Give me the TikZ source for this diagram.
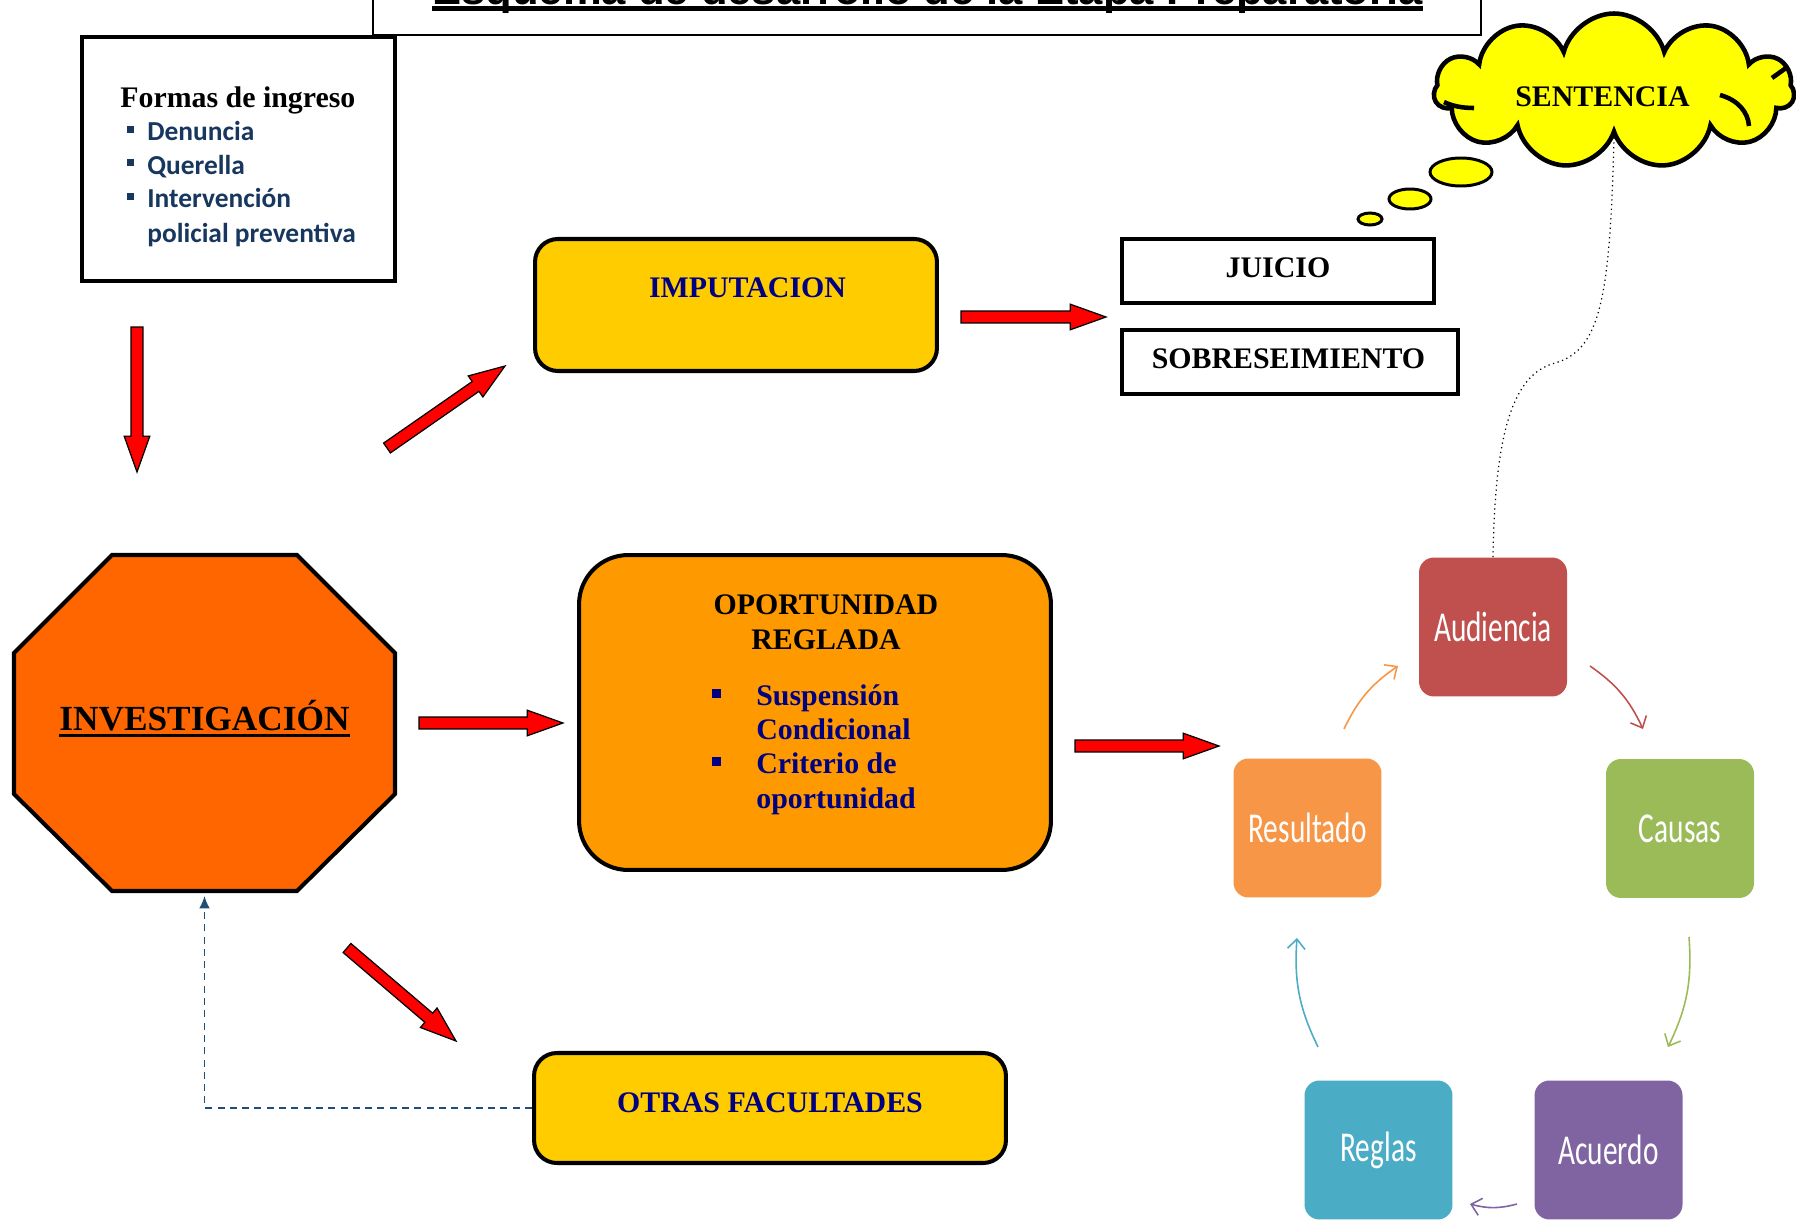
\documentclass[tikz,border=0pt]{standalone}
\usepackage{fontspec}
\usepackage{graphicx}
\setmainfont{Liberation Serif}
\newfontfamily\calibfont{Carlito}
\newfontfamily\arialfont{Liberation Sans}
\usetikzlibrary{calc,shapes.symbols,arrows.meta}
\definecolor{navytxt}{HTML}{000080}
\definecolor{listblue}{HTML}{17375E}
\definecolor{impyellow}{HTML}{FFCC00}
\definecolor{invorange}{HTML}{FF6600}
\definecolor{oporange}{HTML}{FF9900}
\definecolor{audred}{HTML}{C0504D}
\definecolor{caugreen}{HTML}{9BBB59}
\definecolor{acupurple}{HTML}{8064A2}
\definecolor{regblue}{HTML}{4BACC6}
\definecolor{resorange}{HTML}{F79646}
\definecolor{dashblue}{HTML}{1F4E79}
\definecolor{cloudyellow}{HTML}{FFFF00}
\newcommand{\arrSW}{3.4pt}
\newcommand{\arrHW}{7.3pt}
\newcommand{\arrHL}{20.4pt}
\newcommand{\blockarrow}[2]{%
  \coordinate (hb) at ($(#2)!\arrHL!(#1)$);
  \draw[redarrow] ($(#1)!\arrSW!90:(#2)$) -- ($(hb)!\arrSW!-90:(#1)$) -- ($(hb)!\arrHW!-90:(#1)$) -- (#2) -- ($(hb)!\arrHW!90:(#1)$) -- ($(hb)!\arrSW!90:(#1)$) -- ($(#1)!\arrSW!-90:(#2)$) -- cycle;}
\begin{document}
\begin{tikzpicture}[x=0.02cm,y=-0.02cm,
  box/.style={draw, line width=2.3pt, inner sep=0},
  redarrow/.style={draw=black, line width=0.7pt, fill=red, line join=miter},
  tb/.style={font=\fontsize{17}{20}\selectfont\bfseries, inner sep=0},
  lst/.style={anchor=base west, inner sep=0, font=\calibfont\bfseries\fontsize{15.6}{19}\selectfont, text=listblue},
  olst/.style={anchor=base west, tb, text=navytxt},
  cyc/.style={rounded corners=8.5pt, minimum width=2.96cm, minimum height=2.78cm, inner sep=0, text=white, font=\calibfont\fontsize{16.7}{20}\selectfont},
  cycarrow/.style={line width=0.9pt, -{Straight Barb[length=5.5pt,width=10pt]}, bend left=15},
  bubble/.style={draw, line width=1.7pt, fill=cloudyellow},
]
\useasboundingbox (0,0) rectangle (1796,1220);
\clip (0,0) rectangle (1796,1220);
\fill[white] (0,0) rectangle (1796,1220);

% title
\draw[line width=0.9pt, fill=white] (373,-20) rectangle (1481,35);
\node[anchor=base west, inner sep=0, font=\arialfont\bfseries\fontsize{24.8}{30}\selectfont] (title) at (432,5) {Esquema de desarrollo de la Etapa Preparatoria};
\draw[line width=2.3pt] ([yshift=-2pt]title.base west) -- ([yshift=-2pt]title.base east);

% Formas de ingreso
\node[box, fill=white, minimum width=6.26cm, minimum height=4.9cm] (formas) at (238.5,159) {};
\node[tb, anchor=base west] (ftit) at (120,108) {Formas de ingreso};
\foreach \yy in {129.5,162.5,196.5} \fill[listblue] (127,\yy-3.3) rectangle (133.5,\yy+3.3);
\node[lst] (den) at (147,141) {Denuncia};
\node[lst] (que) at (147,174) {Querella};
\node[lst] (int) at (147,208) {Intervención};
\node[lst] (pol) at (147,242) {policial preventiva};

% IMPUTACION
\node[box, fill=impyellow, rounded corners=13pt, minimum width=8.04cm, minimum height=2.64cm] (imp) at (736,305) {};
\node[tb, text=navytxt, anchor=base] (imptxt) at (747.5,297) {IMPUTACION};

% JUICIO / SOBRESEIMIENTO
\node[box, fill=white, minimum width=6.24cm, minimum height=1.28cm] (jui) at (1278,271) {};
\node[tb, anchor=base] (juitxt) at (1278,277) {JUICIO};
\node[box, fill=white, minimum width=6.72cm, minimum height=1.28cm] (sob) at (1290,362) {};
\node[tb, anchor=base] (sobtxt) at (1288.5,368) {SOBRESEIMIENTO};

% cloud
\draw[bubble] (1370,219) ellipse [x radius=12, y radius=6];
\draw[bubble] (1410,199) ellipse [x radius=21, y radius=10];
\draw[bubble] (1461,172) ellipse [x radius=31, y radius=14];
\node[cloud, cloud puffs=11, aspect=2.2, draw, line width=2.6pt, fill=cloudyellow, minimum width=7.2cm, minimum height=3.1cm, inner sep=0] (sent) at (1614,91) {};
\draw[line width=2.6pt] (1474,108) .. controls (1462,108) and (1452,106) .. (1444,102);
\draw[line width=2.6pt] (1720,95) .. controls (1738,100) and (1748,112) .. (1749,126);
\draw[line width=2.6pt] (1772,78) -- (1786,68);
\node[tb, anchor=base] (senttxt) at (1602.5,107) {SENTENCIA};

% INVESTIGACION
\node[minimum width=7.7cm, minimum height=6.8cm, inner sep=0] (inv) at (204.5,723) {};
\draw[line width=2.3pt, fill=invorange, line join=miter] (112,555) -- (297,555) -- (395,653) -- (395,794) -- (297,891) -- (112,891) -- (14,794) -- (14,653) -- cycle;
\node[inner sep=0, anchor=base, font=\fontsize{20.1}{24}\selectfont\bfseries] (invtxt) at (204.5,730) {INVESTIGACIÓN};
\draw[line width=1.7pt] ([yshift=-3.4pt]invtxt.base west) -- ([yshift=-3.4pt]invtxt.base east);

% OPORTUNIDAD REGLADA
\node[box, fill=oporange, rounded corners=28pt, minimum width=9.44cm, minimum height=6.3cm] (opo) at (815,712.5) {};
\node[tb, anchor=base] (op1) at (826,614) {OPORTUNIDAD};
\node[tb, anchor=base] (op2) at (826,649) {REGLADA};
\fill[navytxt] (712,689) rectangle (721,698);
\fill[navytxt] (712,757) rectangle (721,766);
\node[olst] (sus) at (756,705) {Suspensión};
\node[olst] (cond) at (756,739) {Condicional};
\node[olst] (crit) at (756,773) {Criterio de};
\node[olst] (oport) at (756,808) {oportunidad};

% OTRAS FACULTADES
\node[box, fill=impyellow, rounded corners=13pt, minimum width=9.44cm, minimum height=2.2cm] (otras) at (770,1108) {};
\node[tb, text=navytxt, anchor=base] (otrastxt) at (770,1112) {OTRAS FACULTADES};

% cycle
\node[cyc, fill=audred] (aud) at (1493,627) {\scalebox{1}[1.45]{Audiencia}};
\node[cyc, fill=caugreen] (cau) at (1680,828.5) {\scalebox{1}[1.45]{Causas}};
\node[cyc, fill=resorange] (res) at (1307.5,828) {\scalebox{1}[1.45]{Resultado}};
\node[cyc, fill=regblue] (reg) at (1378.5,1150) {\scalebox{1}[1.45]{Reglas}};
\node[cyc, fill=acupurple] (acu) at (1608.5,1150) {\scalebox{1}[1.45]{Acuerdo}};

\coordinate (c1a) at (1344,729); \coordinate (c1b) at (1398,666);
\coordinate (c2a) at (1590,666); \coordinate (c2b) at (1643,729);
\coordinate (c3a) at (1689,937); \coordinate (c3b) at (1668,1047);
\coordinate (c4a) at (1517,1204); \coordinate (c4b) at (1470,1204);
\coordinate (c5a) at (1318,1047); \coordinate (c5b) at (1297,938);
\draw[cycarrow, resorange] (c1a) to (c1b);
\draw[cycarrow, audred] (c2a) to (c2b);
\draw[cycarrow, caugreen] (c3a) to (c3b);
\draw[cycarrow, acupurple] (c4a) to (c4b);
\draw[cycarrow, regblue] (c5a) to (c5b);

% dotted link cloud -> Audiencia
\draw[dotted, line width=0.7pt] (sent.south) .. controls (1610,300) and (1600,350) .. (1555,363) .. controls (1510,375) and (1495,440) .. (aud.north);

% dashed return arrow
\draw[dashblue, line width=0.9pt, dash pattern=on 4pt off 3pt, -{Latex[length=7pt,width=6pt]}, shorten >=1.5pt] (otras.west) -| (inv.south);

% red block arrows
\coordinate (a1s) at (137,327); \coordinate (a1e) at (137,472);
\coordinate (a2s) at (387,448); \coordinate (a2e) at (505,366);
\coordinate (a3s) at (961,317); \coordinate (a3e) at (1106,317);
\coordinate (a4s) at (419,723); \coordinate (a4e) at (563,723);
\coordinate (a5s) at (1075,746); \coordinate (a5e) at (1219,746);
\coordinate (a6s) at (347,948); \coordinate (a6e) at (456,1041);
\blockarrow{a1s}{a1e}
\blockarrow{a2s}{a2e}
\blockarrow{a3s}{a3e}
\blockarrow{a4s}{a4e}
\blockarrow{a5s}{a5e}
\blockarrow{a6s}{a6e}
\end{tikzpicture}
\end{document}
